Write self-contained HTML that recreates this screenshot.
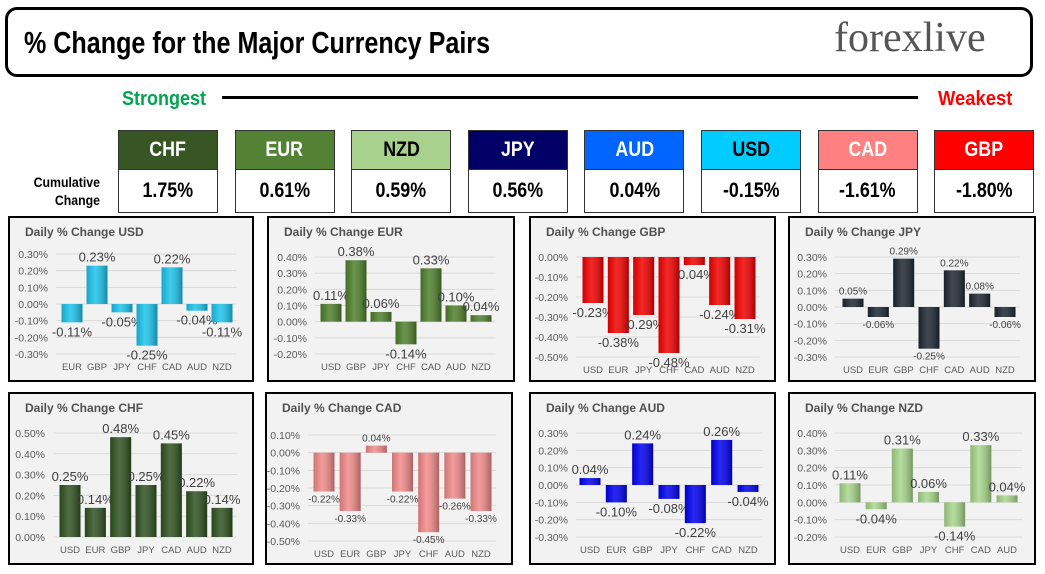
<!DOCTYPE html>
<html><head><meta charset="utf-8">
<style>
body{margin:0;width:1045px;height:574px;background:#fff;position:relative;overflow:hidden;font-family:"Liberation Sans",sans-serif}
.abs{position:absolute}
.narrow{font-family:"Liberation Sans",sans-serif;font-weight:bold}
.cbox{position:absolute;width:100px;border:1px solid #333;box-sizing:border-box}
.cbox .h{height:38px;line-height:38px;text-align:center;font-size:21px}
.cbox .v{height:42px;line-height:42px;text-align:center;font-size:21px;color:#000;border-top:1px solid #333;background:#fff}
.cbox span{display:inline-block;transform:scaleX(0.85)}
.panel{position:absolute;border:2px solid #000;background:#f2f2f2;box-sizing:border-box}
</style></head><body>
<div class="abs" style="left:5px;top:7px;width:1028px;height:70px;border:3px solid #000;border-radius:12px;box-sizing:border-box"></div>
<div class="abs narrow" style="left:24px;top:25px;font-size:31px;color:#000;transform:scaleX(0.81);transform-origin:left top;white-space:nowrap">% Change for the Major Currency Pairs</div>
<div class="abs" style="left:834px;top:14px;font-family:'Liberation Serif',serif;font-size:42px;color:#555">forexlive</div>
<div class="abs narrow" style="left:122px;top:88px;font-size:20px;color:#00a550;transform:scaleX(0.9);transform-origin:left top">Strongest</div>
<div class="abs" style="left:222px;top:96px;width:696px;height:3px;background:#000"></div>
<div class="abs narrow" style="left:938px;top:88px;font-size:20px;color:#ff0000;transform:scaleX(0.92);transform-origin:left top">Weakest</div>
<div class="abs narrow" style="left:10px;top:173px;width:90px;font-size:14px;text-align:right;line-height:18px;transform:scaleX(0.88);transform-origin:right top">Cumulative<br>Change</div>
<div id="boxes"></div>
<div id="panels"></div>
<script>
const boxNames=["CHF","EUR","NZD","JPY","AUD","USD","CAD","GBP"];
const boxValues=["1.75%","0.61%","0.59%","0.56%","0.04%","-0.15%","-1.61%","-1.80%"];
const boxColors=["#375623","#548235","#a9d18e","#000066","#0066ff","#00ccff","#ff8080","#ff0000"];
const boxText=["#fff","#fff","#000","#fff","#fff","#000","#fff","#fff"];
const bx=document.getElementById('boxes');
boxNames.forEach((n,i)=>{
  const d=document.createElement('div');
  d.className='cbox narrow';
  
  
  d.style.left=(118+i*116.6)+'px';d.style.top='130px';
  d.innerHTML='<div class="h" style="background:'+boxColors[i]+';color:'+boxText[i]+'"><span>'+n+'</span></div><div class="v"><span>'+boxValues[i]+'</span></div>';
  bx.appendChild(d);
});

const catsUSD=["EUR","GBP","JPY","CHF","CAD","AUD","NZD"];
const valsUSD=[-0.11,0.23,-0.05,-0.25,0.22,-0.04,-0.11];
const catsEUR=["USD","GBP","JPY","CHF","CAD","AUD","NZD"];
const valsEUR=[0.11,0.38,0.06,-0.14,0.33,0.10,0.04];
const catsGBP=["USD","EUR","JPY","CHF","CAD","AUD","NZD"];
const valsGBP=[-0.23,-0.38,-0.29,-0.48,-0.04,-0.24,-0.31];
const catsJPY=["USD","EUR","GBP","CHF","CAD","AUD","NZD"];
const valsJPY=[0.05,-0.06,0.29,-0.25,0.22,0.08,-0.06];
const catsCHF=["USD","EUR","GBP","JPY","CAD","AUD","NZD"];
const valsCHF=[0.25,0.14,0.48,0.25,0.45,0.22,0.14];
const catsCAD=["USD","EUR","GBP","JPY","CHF","AUD","NZD"];
const valsCAD=[-0.22,-0.33,0.04,-0.22,-0.45,-0.26,-0.33];
const catsAUD=["USD","EUR","GBP","JPY","CHF","CAD","NZD"];
const valsAUD=[0.04,-0.10,0.24,-0.08,-0.22,0.26,-0.04];
const catsNZD=["USD","EUR","GBP","JPY","CHF","CAD","AUD"];
const valsNZD=[0.11,-0.04,0.31,0.06,-0.14,0.33,0.04];

const charts=[
 {name:"USD",cats:catsUSD,vals:valsUSD,box:[8,216,246,166],max:0.3,min:-0.3,yT:254,yB:354,c0:72,c1:222,tr:48,col:"#1cc4ec",fs:13},
 {name:"EUR",cats:catsEUR,vals:valsEUR,box:[267,216,248,166],max:0.4,min:-0.2,yT:257,yB:354,c0:331,c1:481,tr:307,col:"#4f7f2c",fs:13},
 {name:"GBP",cats:catsGBP,vals:valsGBP,box:[529,216,247,166],max:0,min:-0.5,yT:257,yB:357,c0:593,c1:745,tr:568,col:"#f20000",fs:13},
 {name:"JPY",cats:catsJPY,vals:valsJPY,box:[788,216,248,166],max:0.3,min:-0.3,yT:257,yB:357,c0:853,c1:1005,tr:827,col:"#1e2631",fs:10},
 {name:"CHF",cats:catsCHF,vals:valsCHF,box:[8,392,246,173],max:0.5,min:0,yT:433,yB:537,c0:70,c1:222,tr:45,col:"#2f5220",fs:13},
 {name:"CAD",cats:catsCAD,vals:valsCAD,box:[265,392,248,173],max:0.1,min:-0.5,yT:435,yB:541,c0:324,c1:481,tr:300,col:"#f28a8a",fs:10},
 {name:"AUD",cats:catsAUD,vals:valsAUD,box:[529,392,247,173],max:0.3,min:-0.3,yT:433,yB:537,c0:590,c1:748,tr:568,col:"#0000f0",fs:13},
 {name:"NZD",cats:catsNZD,vals:valsNZD,box:[788,392,248,173],max:0.4,min:-0.2,yT:433,yB:537,c0:850,c1:1007,tr:827,col:"#a8d68c",fs:13}
];
const NS="http://www.w3.org/2000/svg";
const P=document.getElementById('panels');
const svg=document.createElementNS(NS,'svg');
svg.setAttribute('width','1045');svg.setAttribute('height','574');
svg.setAttribute('style','position:absolute;left:0;top:0');


function el(t,a){const e=document.createElementNS(NS,t);for(const k in a)e.setAttribute(k,a[k]);return e;}
charts.forEach(c=>{
  const [x,y,w,h]=c.box;
  const d=document.createElement('div');d.className='panel';
  
  
  d.style.left=x+'px';d.style.top=y+'px';d.style.width=w+'px';d.style.height=h+'px';
  P.appendChild(d);
  const g=el('g',{});
  
  
  const yS=v=>c.yT+(c.max-v)/(c.max-c.min)*(c.yB-c.yT);
  const step=(c.c1-c.c0)/(c.cats.length-1);
  const xS=i=>c.c0+i*step;
  const t=el('text',{x:x+17,y:y+20,'font-size':12,'font-weight':'bold',fill:'#505050'});
  t.textContent='Daily % Change '+c.name;
  
  
  g.appendChild(t);
  for(let v=c.max;v>=c.min-1e-9;v-=0.1){
    const yy=yS(v);
    const ln=el('line',{x1:c.tr+8,x2:c.c1+step/2+2,y1:yy,y2:yy,stroke:'#d9d9d9','stroke-width':1});
    
    
    g.appendChild(ln);
    const tl=el('text',{x:c.tr,y:yy+4,'font-size':10.5,'text-anchor':'end',fill:'#595959'});
    tl.textContent=(Math.abs(v)<1e-9?0:v).toFixed(2)+'%';
    
    
    g.appendChild(tl);
  }
  const y0=yS(0);
  c.vals.forEach((v,i)=>{
    const cx=xS(i),bw=21,yv=yS(v);
    const r=el('rect',{x:cx-bw/2,y:Math.min(y0,yv),width:bw,height:Math.max(1,Math.abs(yv-y0)),fill:c.col});
    
    
    g.appendChild(r);
    const sh=el('rect',{x:cx-bw/2,y:Math.min(y0,yv),width:bw,height:Math.max(1,Math.abs(yv-y0)),fill:'url(#shade)'});
    
    
    g.appendChild(sh);
    const vl=el('text',{x:cx,y:v>=0?yv-4:yv+c.fs+1,'font-size':c.fs,'text-anchor':'middle',fill:'#404040'});
    vl.textContent=v.toFixed(2)+'%';
    
    
    g.appendChild(vl);
    const cl=el('text',{x:cx,y:c.yB+16,'font-size':9.5,'text-anchor':'middle',fill:'#595959'});
    cl.textContent=c.cats[i];
    
    
    g.appendChild(cl);
  });
  svg.appendChild(g);
});
const defs=el('defs',{});
defs.innerHTML='<linearGradient id="shade" x1="0" x2="1" y1="0" y2="0"><stop offset="0" stop-color="#000" stop-opacity="0.15"/><stop offset="0.4" stop-color="#fff" stop-opacity="0.15"/><stop offset="1" stop-color="#000" stop-opacity="0.3"/></linearGradient>';
svg.appendChild(defs);
document.body.appendChild(svg);
</script>
</body></html>
